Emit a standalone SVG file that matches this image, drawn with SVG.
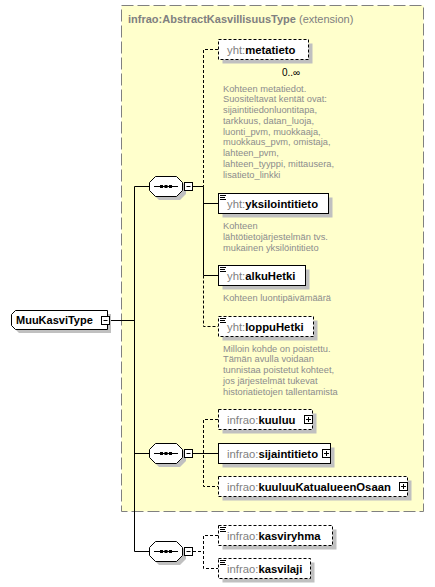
<svg xmlns="http://www.w3.org/2000/svg" xmlns:xlink="http://www.w3.org/1999/xlink" width="435" height="587" viewBox="0 0 435 587">
<style>
.ext{fill:#ffffcc;stroke:#808080;stroke-width:1;stroke-dasharray:12,4}
.box{fill:#fff;stroke:#000;stroke-width:1}
.opt{stroke-dasharray:3,2}
.sh{fill:#c0c0c0}
.c{stroke:#000;stroke-width:1;fill:none}
.d{stroke-dasharray:3,2}
.t{font-family:"Liberation Sans",Arial,sans-serif}
.lbl{font-size:11.3px}
.pre{fill:#808080}
.nm{font-weight:bold;fill:#000}
.desc{font-family:"Liberation Sans",Arial,sans-serif;font-size:9.3px;fill:#8c8c8c}
.ico{stroke:#000;stroke-width:1}
</style>
<defs>
<g id="seq">
<polygon class="sh" points="10,4 31,4 37,10 37,18 31,24 10,24 4,18 4,10"/>
<polygon class="box" points="6.5,0.5 27.5,0.5 33.5,6.5 33.5,14.5 27.5,20.5 6.5,20.5 0.5,14.5 0.5,6.5"/>
<line class="ico" x1="5" y1="10.5" x2="29" y2="10.5"/>
<rect x="11" y="9" width="3" height="3" fill="#000"/>
<rect x="15.5" y="9" width="3" height="3" fill="#000"/>
<rect x="20" y="9" width="3" height="3" fill="#000"/>
<rect class="box" x="35.5" y="6.5" width="8" height="8"/>
<line class="ico" x1="37.5" y1="10.5" x2="41.5" y2="10.5"/>
</g>
<g id="plus">
<rect class="box" x="0.5" y="0.5" width="8" height="8"/>
<line class="ico" x1="2" y1="4.5" x2="7" y2="4.5"/>
<line class="ico" x1="4.5" y1="2" x2="4.5" y2="7"/>
</g>
<g id="eq">
<line class="ico" x1="2" y1="2.5" x2="8" y2="2.5"/>
<line class="ico" x1="2" y1="4.5" x2="7" y2="4.5"/>
<line class="ico" x1="2" y1="6.5" x2="8" y2="6.5"/>
</g>
</defs>

<g id="extension">
<rect class="ext" x="121.5" y="5.5" width="302" height="506"/>
<text class="t" x="128" y="23" font-size="11px" fill="#808080"><tspan font-weight="bold">infrao:AbstractKasvillisuusType</tspan> (extension)</text>
</g>

<g id="connectors">
<path class="c" d="M110,320.5 H134.5 M134.5,186.5 V551.5 M134.5,186.5 H149 M134.5,453.5 H149 M134.5,551.5 H149"/>
<path class="c" d="M193,186.5 H203.5 V275.5 M203.5,203.5 H218 M203.5,275.5 H218"/>
<path class="c d" d="M218,49.5 H203.5 V186.5 M203.5,275.5 V326.5 H218"/>
<path class="c" d="M193,453.5 H218"/>
<path class="c d" d="M218,419.5 H203.5 V486.5 H218"/>
<path class="c d" d="M193,551.5 H203.5 M218,535.5 H203.5 V568.5 H218"/>
</g>

<g id="MuuKasviType">
<polygon class="sh" points="15,318 19,314 111,314 111,333 19,333 15,329"/>
<polygon class="box" points="11.5,314.5 15.5,310.5 107.5,310.5 107.5,329.5 15.5,329.5 11.5,325.5"/>
<text class="t nm" x="16" y="324" font-size="11px">MuuKasviType</text>
<rect class="box" x="101.5" y="316.5" width="8" height="8"/>
<line class="ico" x1="103.5" y1="320.5" x2="107.5" y2="320.5"/>
</g>

<g id="seq1"><use xlink:href="#seq" href="#seq" x="149" y="176"/></g>
<g id="seq2"><use xlink:href="#seq" href="#seq" x="149" y="443"/></g>
<g id="seq3"><use xlink:href="#seq" href="#seq" x="149" y="541"/></g>

<g id="metatieto">
<rect class="sh" x="222.5" y="43.5" width="90" height="20"/>
<rect class="box opt" x="218.5" y="39.5" width="90" height="20"/>
<text class="t lbl" x="227" y="53.5"><tspan class="pre">yht:</tspan><tspan class="nm">metatieto</tspan></text>
<text class="t" x="282" y="76" font-size="10px" fill="#000">0..∞</text>
<text class="desc"><tspan x="223" y="91.5">Kohteen metatiedot.</tspan><tspan x="223" y="102.25">Suositeltavat kentät ovat:</tspan><tspan x="223" y="113">sijaintitiedonluontitapa,</tspan><tspan x="223" y="123.75">tarkkuus, datan_luoja,</tspan><tspan x="223" y="134.5">luonti_pvm, muokkaaja,</tspan><tspan x="223" y="145.25">muokkaus_pvm, omistaja,</tspan><tspan x="223" y="156">lahteen_pvm,</tspan><tspan x="223" y="166.75">lahteen_tyyppi, mittausera,</tspan><tspan x="223" y="177.5">lisatieto_linkki</tspan></text>
</g>

<g id="yksilointitieto">
<rect class="sh" x="222.5" y="197.5" width="110" height="20"/>
<rect class="box" x="218.5" y="193.5" width="110" height="20"/>
<use xlink:href="#eq" href="#eq" x="218" y="193"/>
<text class="t lbl" x="227" y="207.5"><tspan class="pre">yht:</tspan><tspan class="nm">yksilointitieto</tspan></text>
<text class="desc"><tspan x="223" y="229">Kohteen</tspan><tspan x="223" y="240">lähtötietojärjestelmän  tvs.</tspan><tspan x="223" y="251">mukainen yksilöintitieto</tspan></text>
</g>

<g id="alkuHetki">
<rect class="sh" x="222.5" y="269.5" width="87" height="20"/>
<rect class="box" x="218.5" y="265.5" width="87" height="20"/>
<use xlink:href="#eq" href="#eq" x="218" y="265"/>
<text class="t lbl" x="227" y="279.5"><tspan class="pre">yht:</tspan><tspan class="nm">alkuHetki</tspan></text>
<text class="desc" x="223" y="301">Kohteen luontipäivämäärä</text>
</g>

<g id="loppuHetki">
<rect class="sh" x="222.5" y="320.5" width="95" height="20"/>
<rect class="box opt" x="218.5" y="316.5" width="95" height="20"/>
<use xlink:href="#eq" href="#eq" x="218" y="316"/>
<text class="t lbl" x="227" y="330.5"><tspan class="pre">yht:</tspan><tspan class="nm">loppuHetki</tspan></text>
<text class="desc"><tspan x="223" y="351.5">Milloin kohde on poistettu.</tspan><tspan x="223" y="362.3">Tämän avulla voidaan</tspan><tspan x="223" y="373">tunnistaa poistetut kohteet,</tspan><tspan x="223" y="383.8">jos järjestelmät tukevat</tspan><tspan x="223" y="394.5">historiatietojen tallentamista</tspan></text>
</g>

<g id="kuuluu">
<rect class="sh" x="222.5" y="413.5" width="94" height="20"/>
<rect class="box opt" x="218.5" y="409.5" width="94" height="20"/>
<text class="t lbl" x="227" y="423.5"><tspan class="pre">infrao:</tspan><tspan class="nm">kuuluu</tspan></text>
<use xlink:href="#plus" href="#plus" x="304" y="415"/>
</g>

<g id="sijaintitieto">
<rect class="sh" x="222.5" y="447.5" width="112" height="20"/>
<rect class="box" x="218.5" y="443.5" width="112" height="20"/>
<text class="t lbl" x="227" y="457.5"><tspan class="pre">infrao:</tspan><tspan class="nm">sijaintitieto</tspan></text>
<use xlink:href="#plus" href="#plus" x="322" y="449"/>
</g>

<g id="kuuluuKatualueenOsaan">
<rect class="sh" x="222.5" y="480.5" width="189" height="20"/>
<rect class="box opt" x="218.5" y="476.5" width="189" height="20"/>
<text class="t lbl" x="227" y="490.5"><tspan class="pre">infrao:</tspan><tspan class="nm">kuuluuKatualueenOsaan</tspan></text>
<use xlink:href="#plus" href="#plus" x="399" y="482"/>
</g>

<g id="kasviryhma">
<rect class="sh" x="222.5" y="529.5" width="114" height="20"/>
<rect class="box opt" x="218.5" y="525.5" width="114" height="20"/>
<use xlink:href="#eq" href="#eq" x="218" y="525"/>
<text class="t lbl" x="227" y="539.5"><tspan class="pre">infrao:</tspan><tspan class="nm">kasviryhma</tspan></text>
</g>

<g id="kasvilaji">
<rect class="sh" x="222.5" y="562.5" width="92" height="20"/>
<rect class="box opt" x="218.5" y="558.5" width="92" height="20"/>
<use xlink:href="#eq" href="#eq" x="218" y="558"/>
<text class="t lbl" x="227" y="572.5"><tspan class="pre">infrao:</tspan><tspan class="nm">kasvilaji</tspan></text>
</g>
</svg>
